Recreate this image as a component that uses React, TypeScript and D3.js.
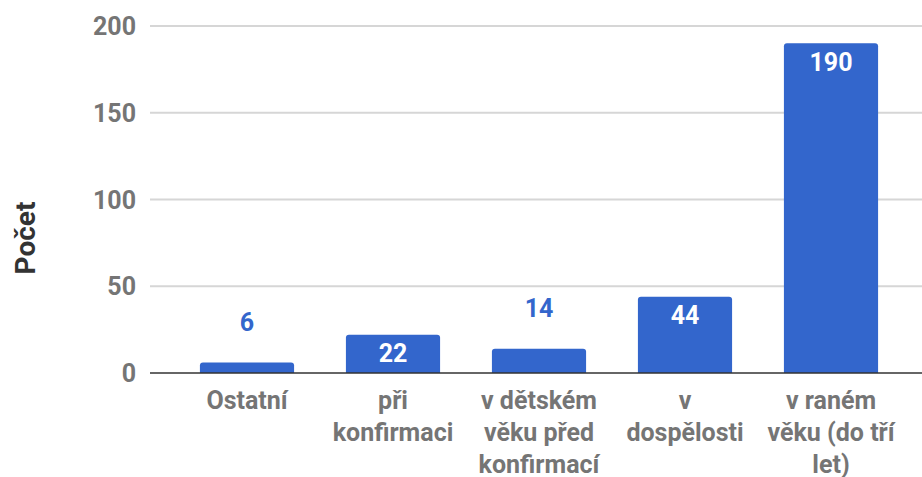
import React from "react";
import * as d3 from "d3";

const categories = ["Ostatní", "při konfirmaci", "v dětském věku před konfirmací", "v dospělosti", "v raném věku (do tří let)"];
const categoryLines = [["Ostatní"], ["při", "konfirmaci"], ["v dětském", "věku před", "konfirmací"], ["v", "dospělosti"], ["v raném", "věku (do tří", "let)"]];
const values = [6, 22, 14, 44, 190];
const yTicks = [0, 50, 100, 150, 200];
const yTitle = "Počet";

const W = 922, H = 477;
const BLUE = "#3366cc";
const FONT = "Roboto, 'Noto Sans', sans-serif";

export default function App() {
  const x = d3.scaleBand<string>().domain(categories).range([174, 904]).paddingInner(0.355).paddingOuter(0.1775);
  const y = d3.scaleLinear().domain([0, 200]).range([373, 26]);
  const bw = x.bandwidth();
  return (
    <svg width={W} height={H} style={{ position: "absolute", left: 0, top: 0, display: "block" }}>
      <rect width={W} height={H} fill="#fff" />
      {yTicks.filter(t => t !== 0).map(t => (
        <line key={t} x1={150} x2={W} y1={y(t)} y2={y(t)} stroke="#d6d6d6" strokeWidth={2} />
      ))}
      {yTicks.map(t => (
        <text key={"l" + t} x={136} y={y(t)} dy="0.36em" textAnchor="end" fontFamily={FONT} fontWeight={700} fontSize={25} fill="#757575">{t}</text>
      ))}
      <text transform={`translate(35,238) rotate(-90)`} textAnchor="middle" fontFamily={FONT} fontWeight={700} fontSize={28} fill="#333">{yTitle}</text>
      {categories.map((c, i) => {
        const v = values[i];
        const x0 = x(c)!;
        const top = y(v);
        const h = y(0) - top;
        const r = Math.min(3, h / 2);
        const path = `M${x0},${y(0)} L${x0},${top + r} Q${x0},${top} ${x0 + r},${top} L${x0 + bw - r},${top} Q${x0 + bw},${top} ${x0 + bw},${top + r} L${x0 + bw},${y(0)} Z`;
        const inside = h > 30;
        return (
          <g key={c}>
            <path d={path} fill={BLUE} />
            <text x={x0 + bw / 2} y={inside ? top + 27.5 : top - 32} textAnchor="middle" fontFamily={FONT} fontWeight={700} fontSize={25} fill={inside ? "#fff" : BLUE}>{v}</text>
            {categoryLines[i].map((ln, j) => (
              <text key={j} x={x0 + bw / 2} y={409 + j * 32} textAnchor="middle" fontFamily={FONT} fontWeight={700} fontSize={25} fill="#757575">{ln}</text>
            ))}
          </g>
        );
      })}
      <line x1={150} x2={W} y1={y(0)} y2={y(0)} stroke="#333" strokeWidth={1.5} />
    </svg>
  );
}
